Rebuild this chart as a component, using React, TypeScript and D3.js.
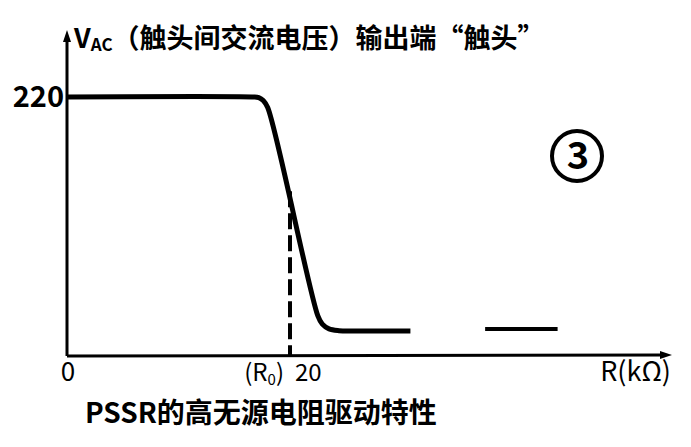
import React from "react";
import * as d3 from "d3";

const curveR = [0, 16.6, 17.2, 17.6, 18.0, 22.5, 22.9, 23.5, 24.4, 25.6, 30.8];
const curveV = [220, 220, 219.5, 217, 211, 34, 27, 23, 21.5, 21.2, 21.2];
const tailR = [37.5, 44];
const tailV = [23, 23];
const dashR = 20;
const dashTopV = 140;
const yTick = 220;
const xTickLabels = ["0", "20"];

const W = 691, H = 447;
const x = d3.scaleLinear().domain([0, 20]).range([67, 290]);
const y = d3.scaleLinear().domain([0, 220]).range([356, 97]);

export default function App() {
  const line = d3.line<number>().x((_, i) => x(curveR[i])).y((v) => y(v)).curve(d3.curveCatmullRom.alpha(0.5));
  const tail = d3.line<number>().x((_, i) => x(tailR[i])).y((v) => y(v));
  const font = "'Noto Sans CJK SC', 'Noto Sans', sans-serif";
  const x0 = x(0), y0 = y(0);
  const xEnd = 672, yTop = 30;
  return (
    <svg width={W} height={H} style={{ position: "absolute", left: 0, top: 0, background: "#fff" }}>
      <rect width={W} height={H} fill="#fff" />
      {/* axes */}
      <line x1={x0} y1={y0} x2={x0} y2={yTop + 8} stroke="#000" strokeWidth={3} />
      <path d={`M${x0 - 4},${yTop + 12} L${x0},${yTop} L${x0 + 4},${yTop + 12} Z`} fill="#000" />
      <line x1={x0} y1={y0} x2={xEnd - 8} y2={y0 - 1} stroke="#000" strokeWidth={3} />
      <path d={`M${xEnd - 12},${y0 - 5} L${xEnd},${y0 - 1} L${xEnd - 12},${y0 + 3} Z`} fill="#000" />
      {/* curve */}
      <path d={line(curveV) || ""} fill="none" stroke="#000" strokeWidth={5} strokeLinejoin="round" />
      <path d={tail(tailV) || ""} fill="none" stroke="#000" strokeWidth={4} />
      {/* dashed */}
      <line x1={x(dashR)} y1={y(dashTopV)} x2={x(dashR)} y2={y0} stroke="#000" strokeWidth={4} strokeDasharray="16,6" />
      {/* labels */}
      <text x={x0 - 3} y={y(yTick) + 10} textAnchor="end" fontFamily={font} fontWeight="bold" fontSize={29}>{yTick}</text>
      <text x={x0 + 1} y={y0 + 25} textAnchor="middle" fontFamily={font} fontSize={26}>{xTickLabels[0]}</text>
      <text x={x(dashR) - 6} y={y0 + 25} textAnchor="end" fontFamily={font} fontSize={24}>(R<tspan fontSize={15} dy={4}>0</tspan><tspan dy={-4}>)</tspan></text>
      <text x={x(dashR) + 5} y={y0 + 25} textAnchor="start" fontFamily={font} fontSize={24}>{xTickLabels[1]}</text>
      <text x={xEnd - 1} y={y0 + 25} textAnchor="end" fontFamily={font} fontSize={27}>R(kΩ)</text>
      <text x={74} y={48} fontFamily={font} fontWeight="bold" fontSize={27} letterSpacing={0}>V<tspan fontSize={17} dy={3}>AC</tspan><tspan dy={-3}>（触头间交流电压）输出端“触头”</tspan></text>
      <text x={85} y={423} fontFamily={font} fontWeight="bold" fontSize={28}>PSSR的高无源电阻驱动特性</text>
      <circle cx={577} cy={156} r={25} fill="none" stroke="#000" strokeWidth={4} />
      <text x={578} y={169} textAnchor="middle" fontFamily={font} fontWeight="bold" fontSize={38}>3</text>
    </svg>
  );
}
